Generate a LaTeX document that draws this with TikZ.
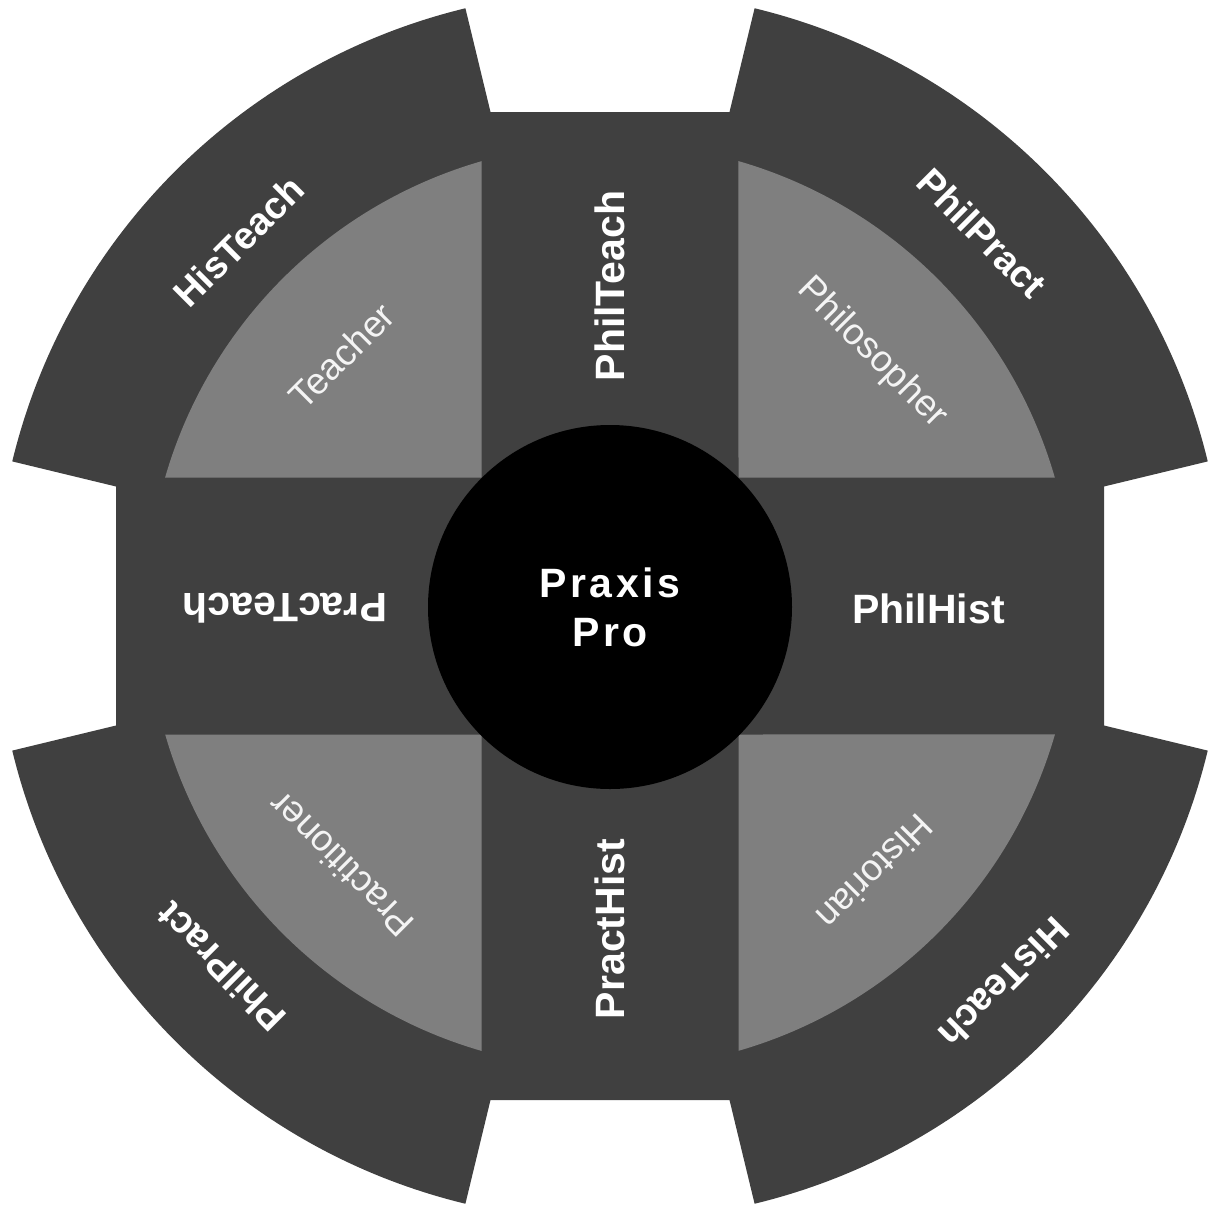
\documentclass[tikz,border=0pt]{standalone}
\usepackage{fontspec}
\setmainfont{Liberation Sans}
\newfontfamily\hubfont[LetterSpace=9]{Liberation Sans}
\definecolor{ringgray}{HTML}{404040}
\definecolor{quadgray}{HTML}{7F7F7F}
\definecolor{softwhite}{HTML}{F4F4F4}
\tikzset{
  hubnode/.style={circle, fill=black, minimum size=364pt, inner sep=0pt,
    text=white, align=center, font=\hubfont\fontsize{41}{49}\selectfont\bfseries},
  barlabel/.style={text=white, inner sep=0pt, font=\fontsize{41}{48}\selectfont\bfseries},
  ringlabel/.style={text=white, inner sep=0pt, font=\fontsize{38}{46}\selectfont\bfseries},
  rolelabel/.style={text=softwhite, inner sep=0pt, font=\fontsize{37}{44}\selectfont},
}
\begin{document}
\begin{tikzpicture}[x=1pt, y=1pt]
\useasboundingbox (0,0) rectangle (1213,-1205);
\coordinate (C) at (610,-606);

% outer gear: cross of bars plus four ring sectors
\begin{scope}[shift={(C)}]
  \fill[ringgray]
    (76.4:615pt) -- (119.5,494) -- (-119.5,494) -- (103.6:615pt)
    arc[start angle=103.6, end angle=166.4, radius=615pt]
    -- (-494,119.5) -- (-494,-119.5) -- (193.6:615pt)
    arc[start angle=193.6, end angle=256.4, radius=615pt]
    -- (-119.5,-494) -- (119.5,-494) -- (283.6:615pt)
    arc[start angle=283.6, end angle=346.4, radius=615pt]
    -- (494,-119.5) -- (494,119.5) -- (13.6:615pt)
    arc[start angle=13.6, end angle=76.4, radius=615pt]
    -- cycle;

  % four quarter sectors between the bars
  \fill[quadgray] (-128.5,128.5) -- (-128.5,444.8)
    arc[start angle=106.1, end angle=163.9, radius=463pt] -- cycle;
  \fill[quadgray] (128.5,128.5) -- (444.8,128.5)
    arc[start angle=16.1, end angle=73.9, radius=463pt] -- cycle;
  \fill[quadgray] (-128.5,-128.5) -- (-444.8,-128.5)
    arc[start angle=196.1, end angle=253.9, radius=463pt] -- cycle;
  \fill[quadgray] (128.5,-128.5) -- (128.5,-444.8)
    arc[start angle=286.1, end angle=343.9, radius=463pt] -- cycle;
\end{scope}

% hub
\node[hubnode] (hub) at (610,-607) {Praxis\\Pro};

% bar labels
\node[barlabel] (philhist) at (928.5,-608.5) {PhilHist};
\node[barlabel, rotate=180] (practeach) at (285,-608) {PracTeach};
\node[barlabel, rotate=90] (philteach) at (610,-286) {PhilTeach};
\node[barlabel, rotate=90] (practhist) at (610,-929) {PractHist};

% ring labels
\node[ringlabel, rotate=45] (histeachtl) at (238.5,-241.5) {HisTeach};
\node[ringlabel, rotate=-45] (philpracttr) at (982,-233) {PhilPract};
\node[ringlabel, rotate=-135] (histeachbr) at (1004,-983) {HisTeach};
\node[ringlabel, rotate=135] (philpractbl) at (221,-967) {PhilPract};

% role labels
\node[rolelabel, rotate=45] (teacher) at (341.5,-355.5) {Teacher};
\node[rolelabel, rotate=-45] (philosopher) at (872,-353) {Philosopher};
\node[rolelabel, rotate=135] (practitioner) at (341,-865) {Practitioner};
\node[rolelabel, rotate=-135] (historian) at (875,-872) {Historian};
\end{tikzpicture}
\end{document}
